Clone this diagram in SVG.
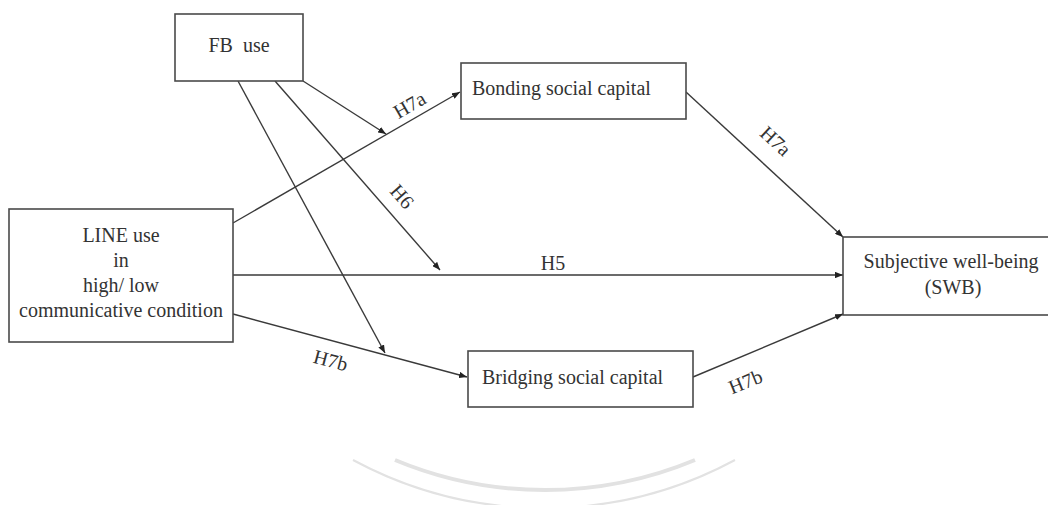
<svg xmlns="http://www.w3.org/2000/svg" width="1048" height="505" viewBox="0 0 1048 505">
<style>
.box{fill:#fff;stroke:#4a4a4a;stroke-width:1.6}
.t{font-family:"Liberation Serif","Times New Roman",serif;font-size:20px;fill:#333}
.c{text-anchor:middle}
.ln{stroke:#3a3a3a;stroke-width:1.4;fill:none;marker-end:url(#ah)}
.wm{fill:none;stroke:#e2e2e2}
</style>
<defs>
<marker id="ah" viewBox="0 0 10 8" refX="10" refY="4" markerWidth="8" markerHeight="6.4" orient="auto" markerUnits="userSpaceOnUse">
<path d="M0,0 L10,4 L0,8 z" fill="#222"/>
</marker>
</defs>
<rect width="1048" height="505" fill="#fff"/>
<g id="watermark">
<path class="wm" stroke-width="2" d="M353,460 A403,403 0 0 0 735,460"/>
<path class="wm" stroke-width="4" d="M395,460 A390,390 0 0 0 695,460"/>
</g>
<g id="connectors">
<line class="ln" x1="233" y1="223" x2="460" y2="92"/>
<line class="ln" x1="233" y1="275" x2="843" y2="275"/>
<line class="ln" x1="233" y1="314" x2="467" y2="377"/>
<line class="ln" x1="303" y1="81" x2="386" y2="134"/>
<line class="ln" x1="275" y1="81" x2="440" y2="270"/>
<line class="ln" x1="238" y1="81" x2="385" y2="353"/>
<line class="ln" x1="686" y1="92" x2="843" y2="237"/>
<line class="ln" x1="693" y1="377" x2="843" y2="314"/>
<text class="t c" transform="translate(413,111) rotate(-30)">H7a</text>
<text class="t c" transform="translate(397,201) rotate(49)">H6</text>
<text class="t c" x="553" y="270">H5</text>
<text class="t c" transform="translate(329,367) rotate(15)">H7b</text>
<text class="t c" transform="translate(771,146) rotate(43)">H7a</text>
<text class="t c" transform="translate(748,388) rotate(-22)">H7b</text>
</g>
<g id="fb">
<rect class="box" x="175" y="14" width="128" height="67"/>
<text class="t c" x="239" y="52" xml:space="preserve">FB  use</text>
</g>
<g id="line">
<rect class="box" x="9" y="209" width="224" height="133"/>
<text class="t c" x="121" y="242">LINE use</text>
<text class="t c" x="121" y="267">in</text>
<text class="t c" x="121" y="292">high/ low</text>
<text class="t c" x="121" y="317">communicative condition</text>
</g>
<g id="bonding">
<rect class="box" x="461" y="63" width="225" height="56"/>
<text class="t" x="472" y="95">Bonding social capital</text>
</g>
<g id="bridging">
<rect class="box" x="468" y="351" width="225" height="56"/>
<text class="t" x="482" y="384">Bridging social capital</text>
</g>
<g id="swb">
<rect class="box" x="843" y="237" width="220" height="78"/>
<text class="t c" x="951" y="268">Subjective well-being</text>
<text class="t c" x="953" y="294">(SWB)</text>
</g>
</svg>
